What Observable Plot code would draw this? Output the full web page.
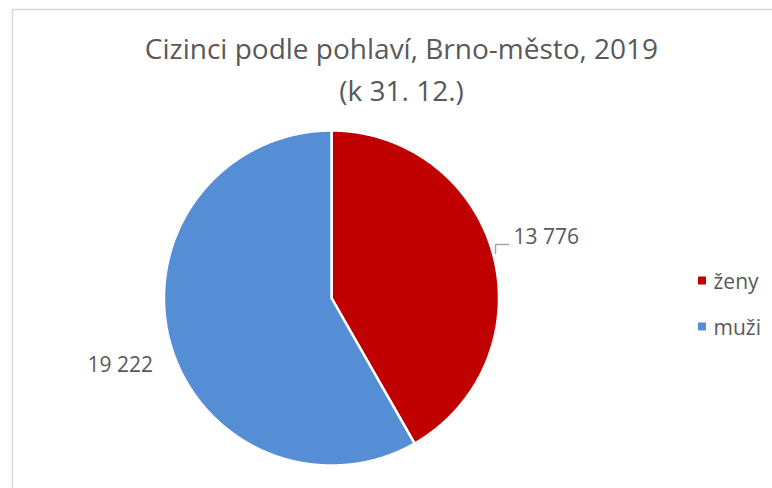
<!DOCTYPE html>
<html>
<head>
<meta charset="utf-8">
<script src="https://cdn.jsdelivr.net/npm/d3@7"></script>
<script src="https://cdn.jsdelivr.net/npm/@observablehq/plot@0.6"></script>
<style>
  html, body { margin: 0; padding: 0; background: #fff; }
  svg { display: block; }
</style>
</head>
<body>
<div id="chart"></div>
<script>
// ---- data ----
const categories = ["ženy", "muži"];
const values = [13776, 19222];
const valueLabels = ["13 776", "19 222"];
const sliceColors = ["#C00000", "#558ED5"];
const titleLines = ["Cizinci podle pohlaví, Brno-město, 2019", "(k 31. 12.)"];

// ---- layout (pixel space) ----
const W = 772, H = 488;
const cx = 331, cy = 297.5, R = 167.5;
const FONT = "Open Sans";
const TEXT = "#595959";

const arcs = d3.pie().sort(null).value(d => d)(values);
const pieRows = [];
arcs.forEach((a, i) => {
  const n = Math.max(2, Math.ceil((a.endAngle - a.startAngle) / 0.005));
  pieRows.push({key: categories[i], x: cx, y: cy});
  for (let k = 0; k <= n; k++) {
    const t = a.startAngle + (a.endAngle - a.startAngle) * k / n;
    pieRows.push({key: categories[i], x: cx + R * Math.sin(t), y: cy - R * Math.cos(t)});
  }
});

const labelPos = [{x: 513, y: 237}, {x: 87, y: 365}];
const labelRows = valueLabels.map((t, i) => ({text: t, ...labelPos[i]}));
const leader = [{x: 495, y: 253}, {x: 495, y: 244}, {x: 508, y: 244}];
const legendRows = categories.map((c, i) => ({key: c, x: 701.5, y: 280 + i * 46}));

const chart = Plot.plot({
  width: W,
  height: H,
  margin: 0,
  x: {domain: [0, W], range: [0, W], axis: null},
  y: {domain: [0, H], range: [0, H], axis: null},
  color: {domain: categories, range: sliceColors},
  style: {background: "#fff", fontFamily: FONT},
  marks: [
    Plot.ruleX([12], {y1: 9, y2: H + 5, stroke: "#d9d9d9", strokeWidth: 1.5}),
    Plot.ruleY([9], {x1: 12, x2: W + 5, stroke: "#d9d9d9", strokeWidth: 1.5}),
    Plot.line(pieRows, {x: "x", y: "y", z: "key", fill: "key", stroke: "#fff", strokeWidth: 2.5, curve: "linear-closed", strokeLinejoin: "miter"}),
    Plot.line(leader, {x: "x", y: "y", stroke: "#a6a6a6", strokeWidth: 1.5}),
    Plot.text(labelRows, {x: "x", y: "y", text: "text", textAnchor: "start", fontSize: 21, fill: TEXT, fontFamily: FONT}),
    Plot.text(titleLines, {x: () => 401, y: (d, i) => i === 0 ? 50 : 92, text: d => d, fontSize: 28, fill: TEXT, fontFamily: FONT, className: "title-text"}),
    Plot.dot(legendRows, {x: "x", y: "y", symbol: "square", r: 4.5, fill: "key", stroke: null}),
    Plot.text(legendRows, {x: d => d.x + 11.5, y: d => d.y + 1.5, text: "key", textAnchor: "start", fontSize: 21, fill: TEXT, fontFamily: FONT})
  ]
});
document.getElementById("chart").appendChild(chart);
</script>
</body>
</html>
